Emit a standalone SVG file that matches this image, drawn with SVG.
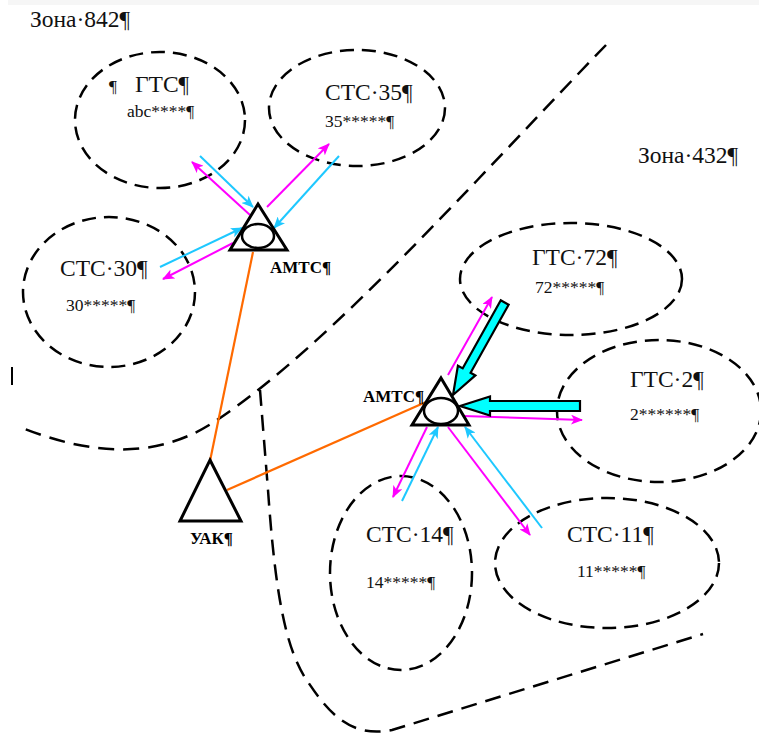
<svg xmlns="http://www.w3.org/2000/svg" width="759" height="734" viewBox="0 0 759 734">
  <style>
    .zone { fill: none; stroke: #000; stroke-width: 2.5; stroke-dasharray: 16 9; }
    .area { fill: none; stroke: #000; stroke-width: 2.5; stroke-dasharray: 14 8; }
    .big { font-family: "Liberation Serif", "Times New Roman", serif; font-size: 23.5px; fill: #111; }
    .num { font-family: "Liberation Serif", "Times New Roman", serif; font-size: 17.5px; fill: #111; }
    .lbl { font-family: "Liberation Serif", "Times New Roman", serif; font-size: 17px; font-weight: bold; fill: #000; }
    .sw { fill: #fff; stroke: #000; stroke-width: 3; }
    .trunk { stroke: #ff6a00; stroke-width: 2.2; fill: none; }
    .out { stroke: #ff00ff; stroke-width: 2; fill: none; marker-end: url(#hm); }
    .in { stroke: #1ec8ff; stroke-width: 2; fill: none; marker-end: url(#hc); }
    .block { fill: #00ffff; stroke: #000; stroke-width: 2.2; stroke-linejoin: miter; }
  </style>
  <defs>
    <marker id="hm" markerUnits="userSpaceOnUse" markerWidth="12" markerHeight="10" viewBox="0 0 12 10" refX="11" refY="5" orient="auto">
      <path d="M0,0 L12,5 L0,10 L3,5 Z" fill="#ff00ff"/>
    </marker>
    <marker id="hc" markerUnits="userSpaceOnUse" markerWidth="12" markerHeight="10" viewBox="0 0 12 10" refX="11" refY="5" orient="auto">
      <path d="M0,0 L12,5 L0,10 L3,5 Z" fill="#1ec8ff"/>
    </marker>
  </defs>

  <rect x="8" y="0" width="751" height="5" fill="#f6f6f6"/>

  <!-- zone boundaries -->
  <g id="zones">
    <path class="zone" d="M606,45 C480,175 330,345 217,420 C170,452 110,462 25,429"/>
    <path class="zone" d="M260,390 L268,490 C275,590 285,650 308,682 C330,715 352,738 392,730 L703,634"/>
    <line x1="12" y1="367" x2="12" y2="385" stroke="#000" stroke-width="2"/>
    <text class="big" x="30" y="27">Зона·842¶</text>
    <text class="big" x="638" y="163">Зона·432¶</text>
  </g>

  <!-- exchange areas -->
  <g id="gts-abc">
    <ellipse class="area" cx="160" cy="120" rx="85" ry="68"/>
    <text class="num" x="109" y="92">¶</text>
    <text class="big" x="135" y="92">ГТС¶</text>
    <text class="num" x="127" y="117">abc****¶</text>
  </g>
  <g id="sts-35">
    <ellipse class="area" cx="357" cy="108" rx="88" ry="58"/>
    <text class="big" x="325" y="100">СТС·35¶</text>
    <text class="num" x="325" y="127">35*****¶</text>
  </g>
  <g id="sts-30">
    <ellipse class="area" cx="109" cy="292" rx="86" ry="75"/>
    <text class="big" x="60" y="276">СТС·30¶</text>
    <text class="num" x="66" y="311">30*****¶</text>
  </g>
  <g id="gts-72">
    <ellipse class="area" cx="571" cy="279" rx="111" ry="56"/>
    <text class="big" x="532" y="265">ГТС·72¶</text>
    <text class="num" x="535" y="293">72*****¶</text>
  </g>
  <g id="gts-2">
    <ellipse class="area" cx="659" cy="411" rx="102" ry="71"/>
    <text class="big" x="630" y="387">ГТС·2¶</text>
    <text class="num" x="630" y="420">2******¶</text>
  </g>
  <g id="sts-14">
    <ellipse class="area" cx="401" cy="573" rx="71" ry="97"/>
    <text class="big" x="366" y="542">СТС·14¶</text>
    <text class="num" x="366" y="588">14*****¶</text>
  </g>
  <g id="sts-11">
    <ellipse class="area" cx="607" cy="563" rx="112" ry="65"/>
    <text class="big" x="567" y="542">СТС·11¶</text>
    <text class="num" x="577" y="577">11*****¶</text>
  </g>

  <!-- links -->
  <g id="connectors">
    <line class="trunk" x1="253" y1="252" x2="210" y2="461"/>
    <line class="trunk" x1="227" y1="490" x2="426" y2="402"/>

    <path class="out" d="M250,215 L192,162"/>
    <path class="in" d="M200,156 L253,207"/>
    <path class="out" d="M267,207 L329,144"/>
    <path class="in" d="M339,156 L274,228"/>
    <path class="in" d="M160,267 L242,228"/>
    <path class="out" d="M233,243 L163,279"/>

    <path class="out" d="M448,375 L492,297"/>
    <path class="out" d="M463,416 L582,420"/>
    <path class="out" d="M427,427 L393,497"/>
    <path class="in" d="M402,501 L438,427"/>
    <path class="out" d="M448,427 L530,535"/>
    <path class="in" d="M542,528 L465,427"/>

    <polygon class="block" transform="translate(453,395) rotate(-60.8)" points="0,0 28,-10 28,-4.5 106,-4.5 106,4.5 28,4.5 28,10"/>
    <polygon class="block" points="460,406 490,396.5 490,401 580,401 580,411 490,411 490,415.5"/>
  </g>

  <!-- switching nodes -->
  <g id="amts-1">
    <polygon class="sw" points="258,204 287,250 230,250"/>
    <ellipse cx="258" cy="236" rx="16" ry="12" fill="#fff" stroke="#000" stroke-width="2.5"/>
    <text class="lbl" x="270" y="273">АМТС¶</text>
  </g>
  <g id="amts-2">
    <polygon class="sw" points="441,378 469,425 412,425"/>
    <ellipse cx="441" cy="411" rx="17" ry="13" fill="#fff" stroke="#000" stroke-width="2.5"/>
    <text class="lbl" x="363" y="402">АМТС¶</text>
  </g>
  <g id="uak">
    <polygon class="sw" points="210,460 241,521 180,521"/>
    <text class="lbl" x="190" y="544">УАК¶</text>
  </g>
</svg>
